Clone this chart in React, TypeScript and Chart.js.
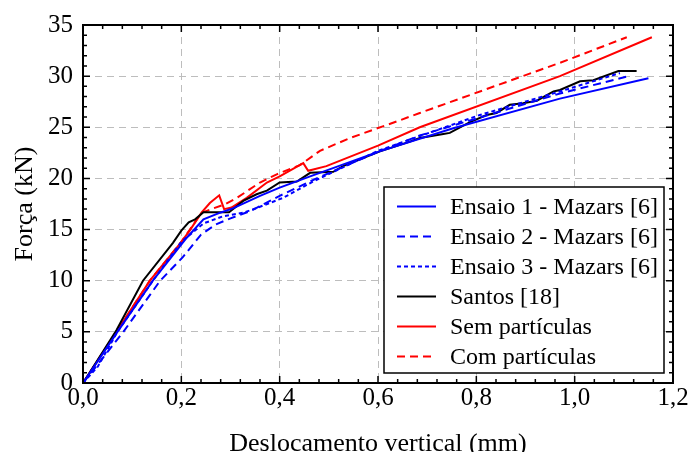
import React, { useEffect, useRef } from 'react';
import { Chart, registerables } from 'chart.js';

Chart.register(...registerables);

const FONT = "'Liberation Serif', 'Times New Roman', Times, serif";

// Axis ticks
const xMin = 0;
const xMax = 1.2;
const xStep = 0.2;
const yMin = 0;
const yMax = 35;
const yStep = 5;

// Series labels
const seriesLabels = [
  'Ensaio 1 - Mazars [6]',
  'Ensaio 2 - Mazars [6]',
  'Ensaio 3 - Mazars [6]',
  'Santos [18]',
  'Sem partículas',
  'Com partículas',
];

// Ensaio 1 - Mazars [6]
const ensaio1X = [0, 0.07, 0.142, 0.211, 0.245, 0.279, 0.306, 0.36, 0.4, 0.462, 0.6, 0.753, 0.97, 1.15];
const ensaio1Y = [0, 5.0, 10.0, 14.2, 16.0, 16.65, 17.1, 18.3, 19.1, 20.2, 22.6, 24.9, 27.8, 29.8];

// Ensaio 2 - Mazars [6]
const ensaio2X = [0, 0.082, 0.157, 0.203, 0.24, 0.27, 0.3, 0.34, 0.4, 0.475, 0.6, 0.685, 0.97, 1.106];
const ensaio2Y = [0, 5.0, 10.0, 12.3, 14.5, 15.5, 16.1, 16.8, 18.3, 20.0, 22.6, 24.2, 28.3, 29.95];

// Ensaio 3 - Mazars [6]
const ensaio3X = [0, 0.03, 0.07, 0.142, 0.2, 0.245, 0.285, 0.326, 0.353, 0.407, 0.468, 0.6, 0.807, 0.97, 1.092];
const ensaio3Y = [0, 1.6, 5.0, 10.0, 13.8, 15.6, 16.3, 16.65, 17.1, 18.1, 19.7, 22.7, 26.2, 28.5, 30.3];

// Santos [18]
const santosX = [0, 0.068, 0.122, 0.183, 0.2, 0.215, 0.228, 0.245, 0.297, 0.326, 0.353, 0.374, 0.4, 0.435, 0.462, 0.509, 0.529, 0.604, 0.665, 0.685, 0.733, 0.746, 0.787, 0.821, 0.841, 0.868, 0.895, 0.923, 0.957, 0.97, 1.011, 1.038, 1.089, 1.126];
const santosY = [0, 5.15, 10.0, 13.7, 14.9, 15.7, 16.0, 16.7, 16.7, 17.8, 18.45, 18.8, 19.6, 19.7, 20.55, 20.65, 21.2, 22.65, 23.6, 23.95, 24.35, 24.45, 25.5, 26.2, 26.4, 27.2, 27.35, 27.6, 28.5, 28.65, 29.5, 29.6, 30.5, 30.5];

// Sem partículas
const semX = [0, 0.068, 0.136, 0.197, 0.217, 0.241, 0.258, 0.277, 0.287, 0.302, 0.333, 0.374, 0.4, 0.448, 0.458, 0.495, 0.6, 0.685, 0.97, 1.157];
const semY = [0, 5.0, 10.0, 13.6, 14.9, 16.65, 17.6, 18.35, 17.0, 17.15, 18.1, 19.6, 20.2, 21.5, 20.75, 21.2, 23.2, 25.0, 30.0, 33.8];

// Com partículas
const comX = [0, 0.068, 0.136, 0.2, 0.241, 0.29, 0.313, 0.36, 0.394, 0.441, 0.482, 0.543, 0.638, 0.685, 0.97, 1.106];
const comY = [0, 5.0, 10.0, 13.8, 16.65, 17.5, 18.1, 19.6, 20.4, 21.3, 22.7, 23.95, 25.57, 26.4, 31.3, 33.8];

const toPoints = (xs: number[], ys: number[]) => xs.map((x, i) => ({ x, y: ys[i] }));

const fmtComma = (v: number) => v.toFixed(1).replace('.', ',');

const framePlugin = {
  id: 'framePlugin',
  afterDraw(chart: any) {
    const { ctx, chartArea, scales } = chart;
    const { left, right, top, bottom } = chartArea;
    const xs = scales.x;
    const ys = scales.y;
    ctx.save();
    ctx.strokeStyle = '#000';
    ctx.lineWidth = 1.5;
    ctx.setLineDash([]);
    const nx = Math.round((xMax - xMin) / (xStep / 5));
    for (let i = 0; i <= nx; i++) {
      const v = xMin + i * (xStep / 5);
      const px = xs.getPixelForValue(v);
      const len = i % 5 === 0 ? 7 : 4;
      ctx.beginPath();
      ctx.moveTo(px, bottom);
      ctx.lineTo(px, bottom - len);
      ctx.moveTo(px, top);
      ctx.lineTo(px, top + len);
      ctx.stroke();
    }
    const ny = Math.round((yMax - yMin) / (yStep / 5));
    for (let i = 0; i <= ny; i++) {
      const v = yMin + i * (yStep / 5);
      const py = ys.getPixelForValue(v);
      const len = i % 5 === 0 ? 7 : 4;
      ctx.beginPath();
      ctx.moveTo(left, py);
      ctx.lineTo(left + len, py);
      ctx.moveTo(right, py);
      ctx.lineTo(right - len, py);
      ctx.stroke();
    }
    ctx.lineWidth = 2;
    ctx.strokeRect(left, top, right - left, bottom - top);

    // Legend box inside plot area
    const lx0 = 384;
    const ly0 = 187;
    const lx1 = 664;
    const ly1 = 373;
    ctx.fillStyle = '#fff';
    ctx.fillRect(lx0, ly0, lx1 - lx0, ly1 - ly0);
    ctx.lineWidth = 1.5;
    ctx.strokeStyle = '#000';
    ctx.strokeRect(lx0, ly0, lx1 - lx0, ly1 - ly0);
    ctx.font = `24px ${FONT}`;
    ctx.textBaseline = 'middle';
    ctx.textAlign = 'left';
    chart.data.datasets.forEach((ds: any, i: number) => {
      const yy = 206.5 + i * 30;
      ctx.strokeStyle = ds.borderColor;
      ctx.lineWidth = 2;
      ctx.setLineDash(ds.borderDash || []);
      ctx.beginPath();
      ctx.moveTo(397, yy);
      ctx.lineTo(436, yy);
      ctx.stroke();
      ctx.setLineDash([]);
      ctx.fillStyle = '#000';
      ctx.fillText(ds.label, 450, yy + 1);
    });
    ctx.restore();
  },
};

export default function App() {
  const ref = useRef<HTMLCanvasElement | null>(null);
  useEffect(() => {
    if (!ref.current) return;
    const common = { pointRadius: 0, borderWidth: 2, tension: 0, showLine: true, fill: false };
    const chart = new Chart(ref.current, {
      type: 'scatter',
      data: {
        datasets: [
          { ...common, label: seriesLabels[0], data: toPoints(ensaio1X, ensaio1Y), borderColor: '#0000ff', backgroundColor: '#0000ff' },
          { ...common, label: seriesLabels[1], data: toPoints(ensaio2X, ensaio2Y), borderColor: '#0000ff', backgroundColor: '#0000ff', borderDash: [8, 5] },
          { ...common, label: seriesLabels[2], data: toPoints(ensaio3X, ensaio3Y), borderColor: '#0000ff', backgroundColor: '#0000ff', borderDash: [4, 3] },
          { ...common, label: seriesLabels[3], data: toPoints(santosX, santosY), borderColor: '#000000', backgroundColor: '#000000' },
          { ...common, label: seriesLabels[4], data: toPoints(semX, semY), borderColor: '#ff0000', backgroundColor: '#ff0000' },
          { ...common, label: seriesLabels[5], data: toPoints(comX, comY), borderColor: '#ff0000', backgroundColor: '#ff0000', borderDash: [8, 5] },
        ],
      },
      options: {
        responsive: false,
        animation: false,
        devicePixelRatio: 1,
        layout: { padding: { left: 0, right: 18, top: 23, bottom: 0 } },
        plugins: {
          legend: { display: false },
          tooltip: { enabled: false },
        },
        scales: {
          x: {
            type: 'linear',
            min: xMin,
            max: xMax,
            afterFit: (s: any) => { s.height = 69; },
            ticks: {
              stepSize: xStep,
              color: '#000',
              padding: 0,
              maxRotation: 0,
              font: { family: FONT, size: 25, lineHeight: 1.2 },
              callback: (v: any) => fmtComma(Number(v)),
            },
            grid: { color: '#bdbdbd', lineWidth: 1, drawTicks: false },
            border: { display: false, dash: [7, 5] },
            title: {
              display: true,
              text: 'Deslocamento vertical (mm)',
              color: '#000',
              font: { family: FONT, size: 26, lineHeight: 1 },
              padding: { top: 0, bottom: -5 },
            },
          },
          y: {
            type: 'linear',
            min: yMin,
            max: yMax,
            afterFit: (s: any) => { s.width = 83; },
            ticks: {
              stepSize: yStep,
              color: '#000',
              padding: 10,
              font: { family: FONT, size: 25, lineHeight: 1.2 },
            },
            grid: { color: '#bdbdbd', lineWidth: 1, drawTicks: false },
            border: { display: false, dash: [7, 5] },
            title: {
              display: true,
              text: 'Força (kN)',
              color: '#000',
              font: { family: FONT, size: 26, lineHeight: 1.2 },
              padding: { top: 10, bottom: 0 },
            },
          },
        },
      },
      plugins: [framePlugin],
    } as any);
    return () => chart.destroy();
  }, []);
  return (
    <div style={{ position: 'absolute', left: 0, top: 0, width: 691, height: 452 }}>
      <canvas ref={ref} width={691} height={452} style={{ display: 'block', width: 691, height: 452 }} />
    </div>
  );
}
